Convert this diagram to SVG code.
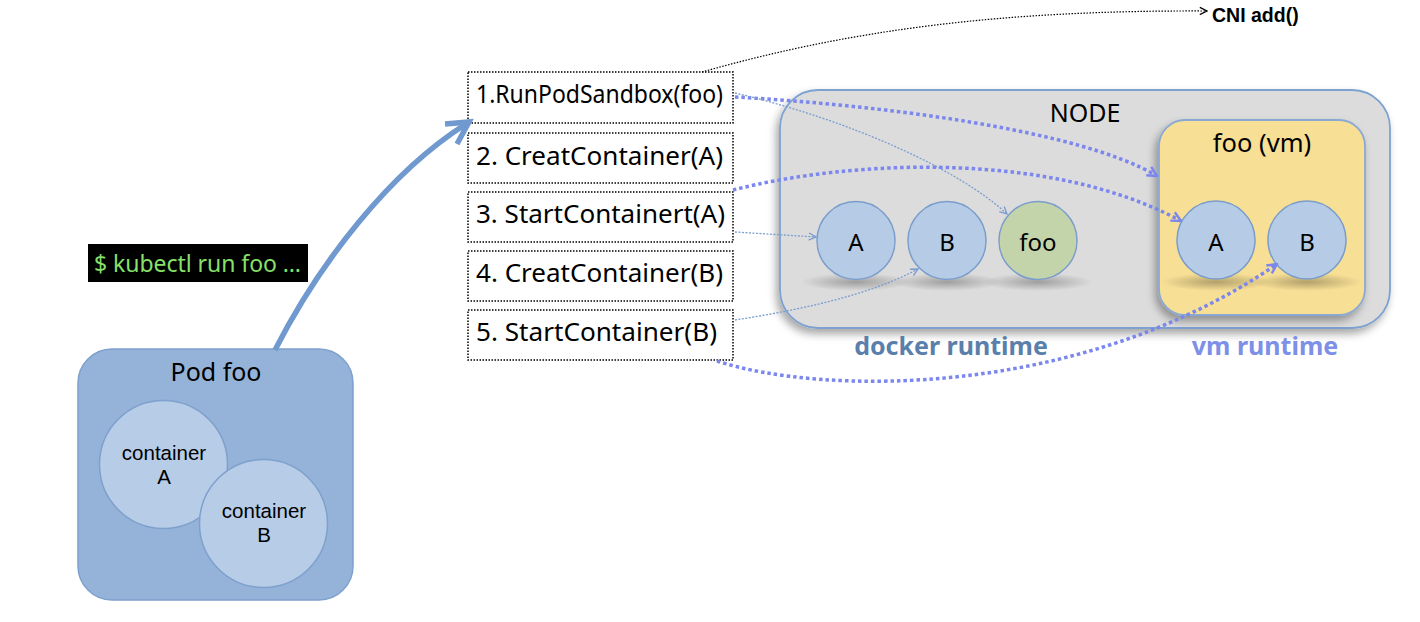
<svg xmlns="http://www.w3.org/2000/svg" width="1420" height="622" viewBox="0 0 1420 622">
<style>
.t{font-family:"Noto Sans","DejaVu Sans",sans-serif;fill:#000}
.ct{font-family:"Liberation Sans",Arial,sans-serif;fill:#000;font-size:20.5px}
.st{font-family:"Noto Sans","DejaVu Sans",sans-serif;fill:#000;font-size:25px}
.step{fill:#fff;stroke:#000;stroke-width:1.5;stroke-dasharray:1.5 1.5}
.circ{fill:#b6cce6;stroke:#7a9dcb;stroke-width:1.5}
.thick{fill:none;stroke:#7b87ee;stroke-width:3.5;stroke-dasharray:3.5 3}
.thin{fill:none;stroke:#7a9dd0;stroke-width:1.3;stroke-dasharray:2 1.5}
</style>
<defs>
<filter id="sh" x="-10%" y="-10%" width="120%" height="125%">
<feDropShadow dx="-3" dy="5" stdDeviation="4" flood-color="#000" flood-opacity="0.35"/>
</filter>
<radialGradient id="cs" cx="0.5" cy="0.5" r="0.5">
<stop offset="0" stop-color="#000" stop-opacity="0.28"/>
<stop offset="1" stop-color="#000" stop-opacity="0"/>
</radialGradient>
<marker id="ap" viewBox="0 0 10 10" refX="9" refY="5" markerWidth="12" markerHeight="12" markerUnits="userSpaceOnUse" orient="auto">
<path d="M1,1 L9,5 L1,9" fill="none" stroke="#7b87ee" stroke-width="2"/>
</marker>
<marker id="at" viewBox="0 0 10 10" refX="9" refY="5" markerWidth="9" markerHeight="9" markerUnits="userSpaceOnUse" orient="auto">
<path d="M1,1 L9,5 L1,9" fill="none" stroke="#7a9dd0" stroke-width="1.5"/>
</marker>
<marker id="ab" viewBox="0 0 10 10" refX="9" refY="5" markerWidth="9" markerHeight="9" markerUnits="userSpaceOnUse" orient="auto">
<path d="M1,1 L9,5 L1,9" fill="none" stroke="#000" stroke-width="1.5"/>
</marker>
</defs>
<rect width="1420" height="622" fill="#fff"/>

<g id="pod">
<rect x="78" y="349" width="275" height="251" rx="34" fill="#95b3d9" stroke="#7ea0cc" stroke-width="1.5"/>
<text class="t" x="216" y="381" font-size="25" text-anchor="middle">Pod foo</text>
<circle cx="163.5" cy="464.5" r="64" fill="#b7cce6" stroke="#7ea0cc" stroke-width="1.5"/>
<text class="ct" text-anchor="middle"><tspan x="164" y="460">container</tspan><tspan x="164" y="484">A</tspan></text>
<circle cx="263.5" cy="523.5" r="64" fill="#b7cce6" stroke="#7ea0cc" stroke-width="1.5"/>
<text class="ct" text-anchor="middle"><tspan x="264" y="518">container</tspan><tspan x="264" y="542">B</tspan></text>
</g>

<g id="kubectl">
<rect x="88" y="244" width="220" height="38" fill="#000"/>
<text x="94" y="272" font-family="Noto Sans, DejaVu Sans, sans-serif" font-size="23" fill="#86e06a" textLength="207">$ kubectl run foo …</text>
</g>

<g id="node">
<rect x="780" y="90" width="610" height="238" rx="38" fill="#dcdcdc" stroke="#7da2d0" stroke-width="1.8" filter="url(#sh)"/>
<text class="t" x="1085" y="122" font-size="25" text-anchor="middle">NODE</text>
<ellipse cx="856" cy="282" rx="55" ry="9" fill="url(#cs)"/>
<ellipse cx="947" cy="282" rx="55" ry="9" fill="url(#cs)"/>
<ellipse cx="1038" cy="282" rx="55" ry="9" fill="url(#cs)"/>
</g>
<g id="cA"><circle class="circ" cx="856" cy="240.5" r="39"/><text class="t" x="856" y="251" font-size="24" text-anchor="middle">A</text></g>
<g id="cB"><circle class="circ" cx="947" cy="240.5" r="39"/><text class="t" x="947" y="251" font-size="24" text-anchor="middle">B</text></g>
<g id="cfoo"><circle cx="1038" cy="240.5" r="39" fill="#c4d4aa" stroke="#7a9dcb" stroke-width="1.5"/><text class="t" x="1038" y="251" font-size="24" text-anchor="middle">foo</text></g>
<g id="dockerlabel"><text x="951" y="355" font-family="Noto Sans, DejaVu Sans, sans-serif" font-size="25" font-weight="bold" fill="#5b7fab" text-anchor="middle">docker runtime</text></g>

<g id="vm">
<rect x="1159" y="120" width="206" height="195" rx="26" fill="#f7df95" stroke="#8aa8d4" stroke-width="1.8" filter="url(#sh)"/>
<text class="t" x="1262" y="152" font-size="25.5" text-anchor="middle">foo (vm)</text>
<ellipse cx="1216" cy="282" rx="55" ry="9" fill="url(#cs)"/>
<ellipse cx="1307" cy="282" rx="55" ry="9" fill="url(#cs)"/>
</g>
<g id="vA"><circle class="circ" cx="1216" cy="240" r="39"/><text class="t" x="1216" y="251" font-size="24" text-anchor="middle">A</text></g>
<g id="vB"><circle class="circ" cx="1307" cy="240" r="39"/><text class="t" x="1307" y="251" font-size="24" text-anchor="middle">B</text></g>
<g id="vmlabel"><text x="1265" y="355" font-family="Noto Sans, DejaVu Sans, sans-serif" font-size="25" font-weight="bold" fill="#7e8fe8" text-anchor="middle">vm runtime</text></g>

<g id="s1"><rect class="step" x="468" y="72" width="265" height="51"/><text class="st" x="476" y="103" textLength="247" lengthAdjust="spacingAndGlyphs">1.RunPodSandbox(foo)</text></g>
<g id="s2"><rect class="step" x="468" y="133" width="265" height="50"/><text class="st" x="476" y="165" textLength="247" lengthAdjust="spacingAndGlyphs">2. CreatContainer(A)</text></g>
<g id="s3"><rect class="step" x="468" y="192" width="265" height="50"/><text class="st" x="476" y="223" textLength="249" lengthAdjust="spacingAndGlyphs">3. StartContainert(A)</text></g>
<g id="s4"><rect class="step" x="468" y="251" width="265" height="50"/><text class="st" x="476" y="282" textLength="247" lengthAdjust="spacingAndGlyphs">4. CreatContainer(B)</text></g>
<g id="s5"><rect class="step" x="468" y="310" width="265" height="50"/><text class="st" x="476" y="341" textLength="241" lengthAdjust="spacingAndGlyphs">5. StartContainer(B)</text></g>

<g id="cni"><text x="1212" y="22" font-family="Liberation Sans, Arial, sans-serif" font-size="19.5" font-weight="bold" fill="#000">CNI add()</text></g>

<g id="connectors">
<path d="M275,350 C320,262 390,172 466,124" fill="none" stroke="#7099cf" stroke-width="5.5"/>
<polyline points="445,124 469,122 457,144" fill="none" stroke="#7099cf" stroke-width="5.5" stroke-linejoin="miter"/>
<path d="M702,72 C850,30 1000,10 1207,11" fill="none" stroke="#000" stroke-width="1.2" stroke-dasharray="1.5 1.5" marker-end="url(#ab)"/>
<path class="thick" d="M735,97 C880,105 1080,130 1157,176" marker-end="url(#ap)"/>
<path class="thin" d="M735,93 C850,120 960,170 1007,214" marker-end="url(#at)"/>
<path class="thick" d="M733,190 C850,160 1050,150 1181,221" marker-end="url(#ap)"/>
<path class="thin" d="M735,232 L816,237" marker-end="url(#at)"/>
<path class="thin" d="M735,320 C800,310 870,295 918,269" marker-end="url(#at)"/>
<path class="thick" d="M717,361 C820,395 1080,400 1277,264" marker-end="url(#ap)"/>
</g>
</svg>
